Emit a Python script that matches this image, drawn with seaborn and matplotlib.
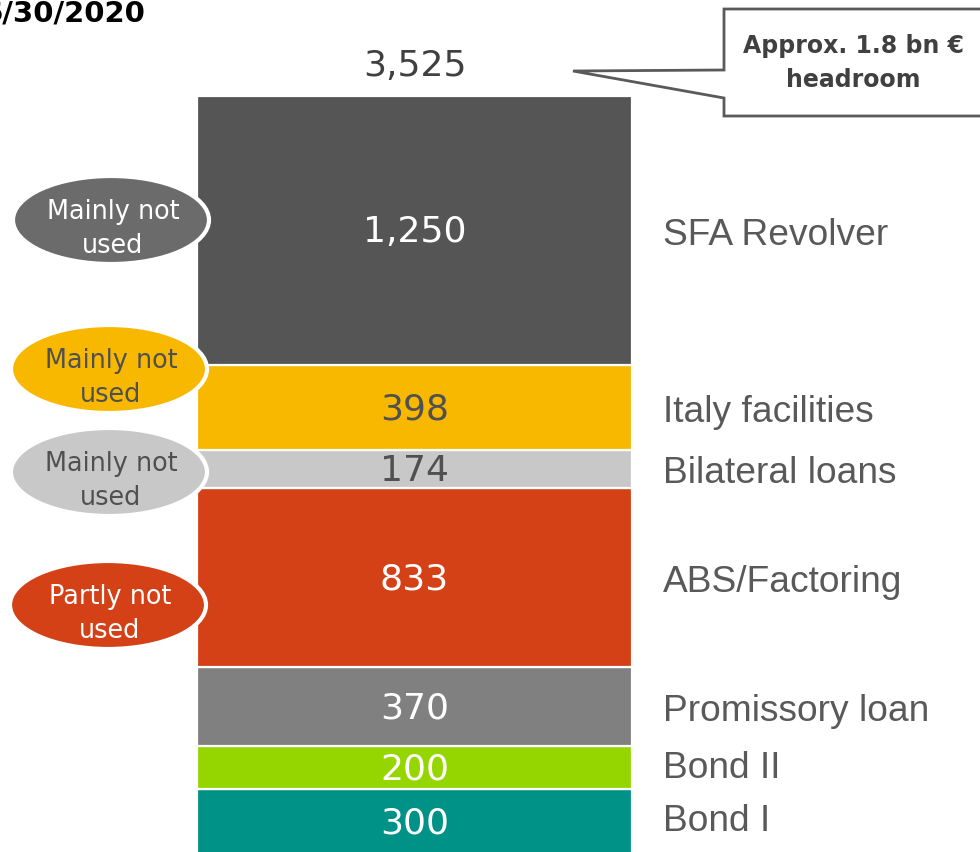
import matplotlib
matplotlib.use("Agg")
import matplotlib.pyplot as plt
from matplotlib.patches import Ellipse, Polygon
import seaborn as sns
import pandas as pd
import numpy as np

# ---- data ----
segments = ["Bond I", "Bond II", "Promissory loan", "ABS/Factoring",
            "Bilateral loans", "Italy facilities", "SFA Revolver"]
values = [300, 200, 370, 833, 174, 398, 1250]
value_labels = ["300", "200", "370", "833", "174", "398", "1,250"]
colors = ["#009286", "#95D600", "#7F807F", "#D54117", "#C8C8C8", "#F9B800", "#555555"]
label_colors = ["white", "white", "white", "white", "#505050", "#505050", "white"]
total_label = "3,525"
date_label = "6/30/2020"
callout_text = "Approx. 1.8 bn €\nheadroom"
badge_texts = ["Mainly not\nused", "Mainly not\nused", "Mainly not\nused", "Partly not\nused"]
badge_colors = ["#6B6B6B", "#F9B800", "#C8C8C8", "#D54117"]
badge_text_colors = ["white", "#505050", "#505050", "white"]

W, H = 980, 853
fig = plt.figure(figsize=(W / 100, H / 100), dpi=100)
ax = fig.add_axes([0, 0, 1, 1])

df = pd.DataFrame({"cat": ["Sources"] * len(values), "segment": segments, "value": values})
bottoms = np.concatenate([[0], np.cumsum(values)[:-1]])
total = int(np.sum(values))

for i, row in df.iterrows():
    sns.barplot(data=df.iloc[[i]], x="cat", y="value", color=colors[i],
                bottom=bottoms[i], width=0.8, edgecolor="white", linewidth=1.6,
                saturation=1, ax=ax, errorbar=None)

# axis geometry: bar from px 197 to 632, value 0 at px 855, total at px 97
s = (855 - 97) / total
ax.set_ylim(2 / s, 855 / s)
ppu = 435 / 0.8
ax.set_xlim(-414.5 / ppu, (W - 414.5) / ppu)
ax.axis("off")

# small vertical nudges (px) of the category names, layout only
name_nudge = [1, 0, -4, -4, -3, -4, -4]
for i in range(len(values)):
    yc = bottoms[i] + values[i] / 2
    ax.text(0, yc - 1 / s, value_labels[i], ha="center", va="center", fontsize=26,
            color=label_colors[i], family="DejaVu Sans")
    ax.text((663 - 414.5) / ppu, yc + name_nudge[i] / s, segments[i], ha="left",
            va="center", fontsize=26.7, color="#595959", family="Liberation Sans")

ax.text(0, total + 31 / s, total_label, ha="center", va="center", fontsize=26,
        color="#404040", family="DejaVu Sans")

# ---- overlay in pixel coordinates ----
pax = fig.add_axes([0, 0, 1, 1], facecolor="none")
pax.set_xlim(0, W)
pax.set_ylim(H, 0)
pax.axis("off")

badge_pos = [(111, 221), (109, 370), (109, 473), (108, 606)]
for (cx, cy), txt, fc, tc in zip(badge_pos, badge_texts, badge_colors, badge_text_colors):
    pax.add_patch(Ellipse((cx, cy), 196, 88, facecolor=fc, edgecolor="white", lw=3, zorder=3))
    pax.text(cx + 2, cy + 8, txt, ha="center", va="center", fontsize=18.4, color=tc,
             family="DejaVu Sans", zorder=4, linespacing=1.4)

# callout box with pointer
callout = Polygon([(724, 10), (990, 10), (990, 117), (724, 117), (724, 99),
                   (573, 72), (724, 71)], closed=True, facecolor="white",
                  edgecolor="#5A5A5A", lw=2, zorder=3)
pax.add_patch(callout)
pax.text(853, 63, callout_text, ha="center", va="center", fontsize=17,
         color="#404040", family="DejaVu Sans", fontweight="bold", zorder=4,
         linespacing=1.5)

pax.text(145, 13, date_label, ha="right", va="center", fontsize=21,
         color="black", family="DejaVu Sans", fontweight="bold")

fig.savefig("out.png", dpi=100)
